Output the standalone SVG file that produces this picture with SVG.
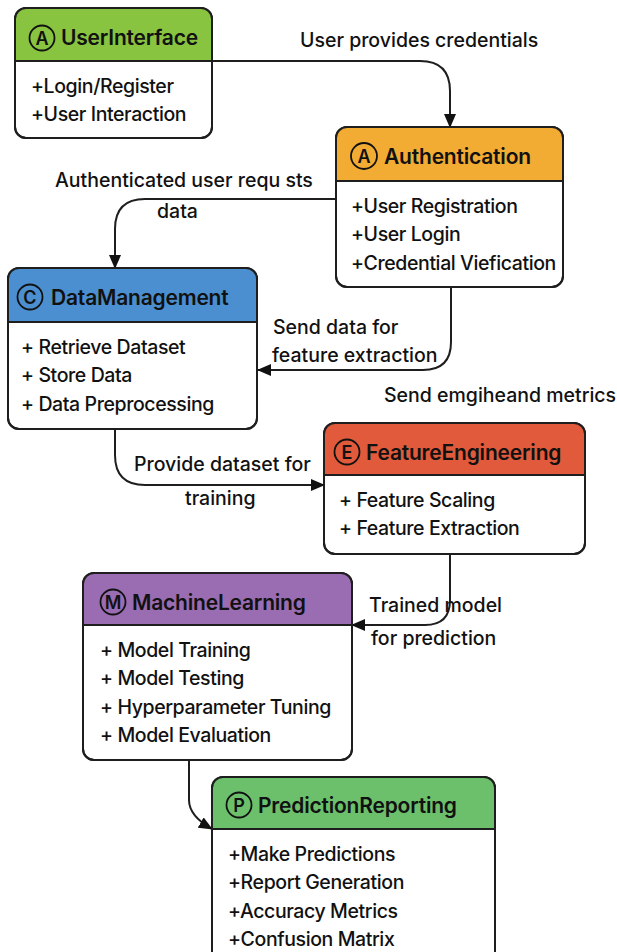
<svg xmlns="http://www.w3.org/2000/svg" width="617" height="952" viewBox="0 0 617 952">
  <style>
    .box { fill: #ffffff; stroke: #1e1e1e; stroke-width: 2; }
    .frame { fill: none; stroke: #1e1e1e; stroke-width: 2; }
    .hdr-line { stroke: #1e1e1e; stroke-width: 2; }
    .title { font-family: Inter, "Liberation Sans", sans-serif; font-size: 21px; font-weight: 600; fill: #111; letter-spacing: -0.2px; }
    .item { font-family: Inter, "Liberation Sans", sans-serif; font-size: 19.5px; font-weight: 500; fill: #111; letter-spacing: -0.4px; }
    .badge { fill: none; stroke: #111; stroke-width: 1.8; }
    .badge-t { font-family: Inter, "Liberation Sans", sans-serif; font-size: 18px; font-weight: 600; fill: #111; text-anchor: middle; }
    .lbl { font-family: Inter, "Liberation Sans", sans-serif; font-size: 19.5px; font-weight: 500; fill: #111; }
    .edge { fill: none; stroke: #1e1e1e; stroke-width: 2; }
  </style>
  <defs>
    <marker id="arrow" markerWidth="14" markerHeight="12" refX="13" refY="6" orient="auto" markerUnits="userSpaceOnUse">
      <path d="M0,0 L14,6 L0,12 Z" fill="#111"/>
    </marker>
  </defs>
  <rect width="617" height="952" fill="#ffffff"/>

  <!-- connectors -->
  <g id="connectors">
    <path class="edge" d="M212,61 H420 Q450,61 450,91 V127" marker-end="url(#arrow)"/>
    <path class="edge" d="M336,199 H145 Q115,199 115,229 V268" marker-end="url(#arrow)"/>
    <path class="edge" d="M451,287 V342 Q451,370 423,370 H258" marker-end="url(#arrow)"/>
    <path class="edge" d="M115,429 V455 Q115,485 145,485 H324" marker-end="url(#arrow)"/>
    <path class="edge" d="M450,554 V600 Q450,625 425,625 H352" marker-end="url(#arrow)"/>
    <path class="edge" d="M189,760 V800 Q189,816 212,829" marker-end="url(#arrow)"/>

    <text class="lbl" x="300" y="47">User provides credentials</text>
    <text class="lbl" x="55" y="187">Authenticated user requ sts</text>
    <text class="lbl" x="157" y="218">data</text>
    <text class="lbl" x="273" y="334">Send data for</text>
    <text class="lbl" x="272" y="362">feature extraction</text>
    <text class="lbl" x="384" y="402">Send emgiheand metrics</text>
    <text class="lbl" x="134" y="471">Provide dataset for</text>
    <text class="lbl" x="185" y="505">training</text>
    <text class="lbl" x="369" y="612">Trained model</text>
    <text class="lbl" x="371" y="645">for prediction</text>
  </g>

  <!-- UserInterface -->
  <g id="UserInterface">
    <rect class="box" x="15" y="8" width="197" height="130" rx="11"/>
    <path d="M15,61 V19 Q15,8 26,8 H201 Q212,8 212,19 V61 Z" fill="#88C440"/>
    <rect class="frame" x="15" y="8" width="197" height="130" rx="11"/>
    <line class="hdr-line" x1="15" y1="61" x2="212" y2="61"/>
    <circle class="badge" cx="42" cy="38" r="12.5"/>
    <text class="badge-t" x="42" y="44.5">A</text>
    <text class="title" x="61" y="45">UserInterface</text>
    <text class="item" x="31" y="93">+Login/Register</text>
    <text class="item" x="31" y="121">+User Interaction</text>
  </g>

  <!-- Authentication -->
  <g id="Authentication">
    <rect class="box" x="336" y="127" width="227" height="160" rx="11"/>
    <path d="M336,181 V138 Q336,127 347,127 H552 Q563,127 563,138 V181 Z" fill="#F2AC33"/>
    <rect class="frame" x="336" y="127" width="227" height="160" rx="11"/>
    <line class="hdr-line" x1="336" y1="181" x2="563" y2="181"/>
    <circle class="badge" cx="364" cy="156" r="13"/>
    <text class="badge-t" x="364" y="162.5">A</text>
    <text class="title" x="384" y="164">Authentication</text>
    <text class="item" x="351" y="213">+User Registration</text>
    <text class="item" x="351" y="241">+User Login</text>
    <text class="item" x="351" y="270" letter-spacing="-1">+Credential Viefication</text>
  </g>

  <!-- DataManagement -->
  <g id="DataManagement">
    <rect class="box" x="8" y="268" width="249" height="161" rx="11"/>
    <path d="M8,322 V279 Q8,268 19,268 H246 Q257,268 257,279 V322 Z" fill="#4C8FD0"/>
    <rect class="frame" x="8" y="268" width="249" height="161" rx="11"/>
    <line class="hdr-line" x1="8" y1="322" x2="257" y2="322"/>
    <circle class="badge" cx="30" cy="297" r="12.5"/>
    <text class="badge-t" x="30" y="303.5">C</text>
    <text class="title" x="51" y="305">DataManagement</text>
    <text class="item" x="21" y="354">+ Retrieve Dataset</text>
    <text class="item" x="21" y="382">+ Store Data</text>
    <text class="item" x="21" y="411">+ Data Preprocessing</text>
  </g>

  <!-- FeatureEngineering -->
  <g id="FeatureEngineering">
    <rect class="box" x="324" y="423" width="261" height="131" rx="11"/>
    <path d="M324,475 V434 Q324,423 335,423 H574 Q585,423 585,434 V475 Z" fill="#E05A3B"/>
    <rect class="frame" x="324" y="423" width="261" height="131" rx="11"/>
    <line class="hdr-line" x1="324" y1="475" x2="585" y2="475"/>
    <circle class="badge" cx="347" cy="452" r="12.5"/>
    <text class="badge-t" x="347" y="458.5">E</text>
    <text class="title" x="366" y="460">FeatureEngineering</text>
    <text class="item" x="339" y="507">+ Feature Scaling</text>
    <text class="item" x="339" y="535">+ Feature Extraction</text>
  </g>

  <!-- MachineLearning -->
  <g id="MachineLearning">
    <rect class="box" x="83" y="573" width="269" height="187" rx="11"/>
    <path d="M83,625 V584 Q83,573 94,573 H341 Q352,573 352,584 V625 Z" fill="#9A6CB2"/>
    <rect class="frame" x="83" y="573" width="269" height="187" rx="11"/>
    <line class="hdr-line" x1="83" y1="625" x2="352" y2="625"/>
    <circle class="badge" cx="113" cy="602" r="12.5"/>
    <text class="badge-t" x="113" y="608.5">M</text>
    <text class="title" x="132" y="610">MachineLearning</text>
    <text class="item" x="100" y="657">+ Model Training</text>
    <text class="item" x="100" y="685">+ Model Testing</text>
    <text class="item" x="100" y="714">+ Hyperparameter Tuning</text>
    <text class="item" x="100" y="742">+ Model Evaluation</text>
  </g>

  <!-- PredictionReporting -->
  <g id="PredictionReporting">
    <rect class="box" x="212" y="777" width="283" height="200" rx="11"/>
    <path d="M212,829 V788 Q212,777 223,777 H484 Q495,777 495,788 V829 Z" fill="#6CC06C"/>
    <rect class="frame" x="212" y="777" width="283" height="200" rx="11"/>
    <line class="hdr-line" x1="212" y1="829" x2="495" y2="829"/>
    <circle class="badge" cx="239" cy="805" r="12.5"/>
    <text class="badge-t" x="239" y="811.5">P</text>
    <text class="title" x="258" y="813">PredictionReporting</text>
    <text class="item" x="228" y="861">+Make Predictions</text>
    <text class="item" x="228" y="889">+Report Generation</text>
    <text class="item" x="228" y="918">+Accuracy Metrics</text>
    <text class="item" x="228" y="946">+Confusion Matrix</text>
  </g>
</svg>
